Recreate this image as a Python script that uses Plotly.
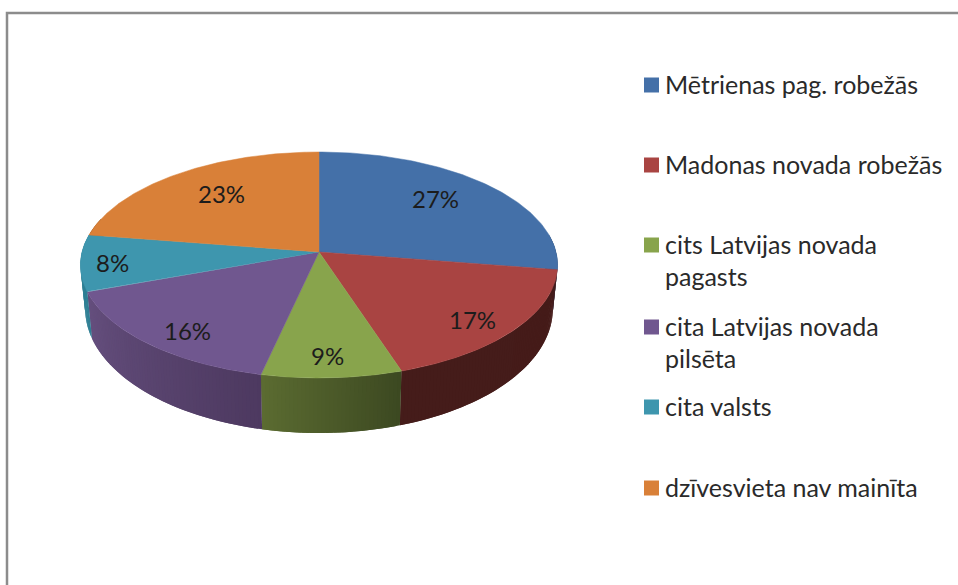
import numpy as np
import plotly.graph_objects as go

# ---- data ----
categories = ["Mētrienas pag. robežās", "Madonas novada robežās", "cits Latvijas novada pagasts",
              "cita Latvijas novada pilsēta", "cita valsts", "dzīvesvieta nav mainīta"]
values = [27.49, 17.49, 8.51, 15.90, 8.10, 22.51]
legend_lines = [["Mētrienas pag. robežās"], ["Madonas novada robežās"],
                ["cits Latvijas novada", "pagasts"], ["cita Latvijas novada", "pilsēta"],
                ["cita valsts"], ["dzīvesvieta nav mainīta"]]

# ---- style ----
top_colors = ["#4470a8", "#a94442", "#88a44c", "#70578f", "#3e96ae", "#d98038"]
side_left = ["#2c4a70", "#451c1a", "#5b6c31", "#654f7e", "#2f7f94", "#8f5424"]
side_right = ["#2c4a70", "#451b19", "#3c4821", "#4d3960", "#2f7f94", "#8f5424"]
label_xy = [(435, 198), (472, 319), (327, 355), (187, 330), (112, 262), (221, 193)]
legend_y = [85, 165, 245, 327, 407, 488]
FONT = "Lato"
CX, CY, R, r, K = 319, 252, 237, 111.5, 0.115
SX, SY, DY = 0.98, 1.10, 42.4


def rim(theta):
    p = 1 / (1 + K * np.cos(theta))
    return CX + R * np.sin(theta) * p, CY - r * np.cos(theta) * p


def lower(x, y):
    return CX + (x - CX) * SX, CY + (y - CY) * SY + DY


def mix(a, b, t):
    ca = [int(a[i:i + 2], 16) for i in (1, 3, 5)]
    cb = [int(b[i:i + 2], 16) for i in (1, 3, 5)]
    return "rgb(%d,%d,%d)" % tuple(round(u + (v - u) * t) for u, v in zip(ca, cb))


fig = go.Figure()
edges = np.concatenate([[0], np.cumsum(values)]) / np.sum(values) * 2 * np.pi

# sides (only the slices facing the viewer); each strip overlaps the next so no seams show
for i in range(len(values)):
    a0, a1 = edges[i], edges[i + 1]
    a0v, a1v = max(a0, np.pi * 0.45), min(a1, np.pi * 1.6)
    if a1v <= a0v:
        continue
    n = max(2, int((a1v - a0v) / 0.015))
    th = np.linspace(a0v, a1v, n + 1)
    for j in range(n):
        seg = np.linspace(th[j], th[min(j + 2, n)], 4)
        x, y = rim(seg)
        bx, by = lower(x, y)
        c = mix(side_right[i], side_left[i], (j + 0.5) / n)
        fig.add_trace(go.Scatter(x=np.r_[x, bx[::-1], x[0]], y=np.r_[y, by[::-1], y[0]],
                                 mode="lines", fill="toself", fillcolor=c,
                                 line=dict(width=0), hoverinfo="skip", showlegend=False))

# top faces
for i, name in enumerate(categories):
    th = np.linspace(edges[i], edges[i + 1], 120)
    x, y = rim(th)
    fig.add_trace(go.Scatter(x=np.r_[CX, x, CX], y=np.r_[CY, y, CY], mode="lines", fill="toself",
                             fillcolor=top_colors[i], line=dict(color=top_colors[i], width=0.5),
                             name=name, hoverinfo="name", showlegend=False))

# legend keys
fig.add_trace(go.Scatter(x=[651.5] * len(categories), y=legend_y, mode="markers",
                         marker=dict(symbol="square", size=15, color=top_colors),
                         hoverinfo="skip", showlegend=False))

ann = []
for v, (lx, ly) in zip(values, label_xy):
    ann.append(dict(x=lx, y=ly, text=f"{v:.0f}%", showarrow=False, xanchor="center", yanchor="middle",
                    font=dict(family=FONT, size=24, color="#1c1c1c")))
for lines, ly in zip(legend_lines, legend_y):
    for k, t in enumerate(lines):
        ann.append(dict(x=663, y=ly - 1 + k * 32, text=t, showarrow=False, xanchor="left", yanchor="middle",
                        font=dict(family=FONT, size=25, color="#2a2a2a")))

fig.update_layout(
    width=958, height=585, margin=dict(l=0, r=0, t=0, b=0),
    paper_bgcolor="white", plot_bgcolor="white", showlegend=False,
    xaxis=dict(range=[0, 958], visible=False, fixedrange=True),
    yaxis=dict(range=[585, 0], visible=False, fixedrange=True),
    annotations=ann,
    shapes=[dict(type="path", path="M 7 585 L 7 13 L 958 13", line=dict(color="#8c8c8c", width=2.5))],
)
fig.write_html("out.html", config={"displayModeBar": False},
               post_script="document.body.style.margin='0';document.documentElement.style.overflow='hidden';")
